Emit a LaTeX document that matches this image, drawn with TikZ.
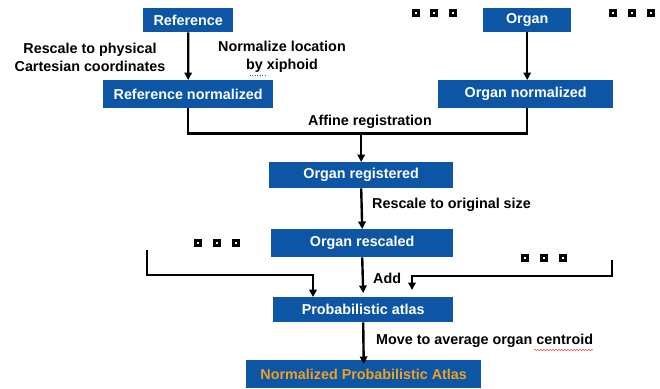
\documentclass[tikz,border=0pt]{standalone}
\usepackage{fontspec}
\setmainfont{Liberation Sans}
\usetikzlibrary{arrows.meta,decorations.pathmorphing}
\definecolor{boxblue}{RGB}{12,86,165}
\definecolor{atlasorange}{RGB}{240,160,32}
\tikzset{
  x=1bp,y=-1bp,
  box/.style={fill=boxblue,text=white,font=\fontsize{14.4}{17}\selectfont\bfseries,inner sep=0pt,anchor=north west},
  lbl/.style={font=\fontsize{14.4}{18}\selectfont\bfseries,inner sep=0pt,align=center},
  conn/.style={line width=2.4bp,-{Triangle[width=7.5bp,length=7.5bp]}},
  plain/.style={line width=2.4bp},
  dotsq/.style={rectangle,fill=black,minimum size=7.5bp,inner sep=0pt,
    path picture={\fill[white] ([shift={(-1.4bp,-1.4bp)}]path picture bounding box.center) rectangle ([shift={(1.4bp,1.4bp)}]path picture bounding box.center);}}
}
\begin{document}
\begin{tikzpicture}
\useasboundingbox (0,0) rectangle (660,388);
% boxes
\node[box,minimum width=90bp,minimum height=24bp] (ref) at (143,8) {Reference};
\node[box,minimum width=88bp,minimum height=24bp] (org) at (483,8) {Organ};
\node[box,minimum width=170bp,minimum height=28bp] (refn) at (103,80) {Reference normalized};
\node[box,minimum width=175bp,minimum height=28bp] (orgn) at (438,80) {Organ normalized};
\node[box,minimum width=184bp,minimum height=26bp] (reg) at (269,162) {Organ registered};
\node[box,minimum width=182bp,minimum height=28bp] (resc) at (271,229) {Organ rescaled};
\node[box,minimum width=180bp,minimum height=25bp] (atlas) at (273,297) {Probabilistic atlas};
\node[box,minimum width=235bp,minimum height=28bp,text=atlasorange] (natlas) at (246,360) {Normalized Probabilistic Atlas};
% labels
\node[lbl] (l1) at (90,57) {Rescale to physical\\Cartesian coordinates};
\node[lbl] (l2) at (282,57) {Normalize location\\by xiphoid};
\node[lbl] (l3) at (370,122) {Affine registration};
\node[lbl,anchor=west] (l4) at (372,205) {Rescale to original size};
\node[lbl,anchor=west] (l5) at (373,278) {Add};
\node[lbl,anchor=west] (l6) at (376,341) {Move to average organ centroid};
% spellcheck squiggles
\draw[red!80!white,line width=0.5bp,decorate,decoration={snake,amplitude=0.6bp,segment length=3bp}] (534,350) -- (593,350);
\draw[green!50!black,line width=0.5bp,dotted] (250,75) -- (267,75);
% dots
\foreach \x/\n in {416/a,434/b,453/c,613/d,632/e,651/f} \node[dotsq] (t\n) at (\x,13) {};
\foreach \x/\n in {198/a,217/b,236/c} \node[dotsq] (m\n) at (\x,243) {};
\foreach \x/\n in {525/a,544/b,563/c} \node[dotsq] (r\n) at (\x,258) {};
% connectors
\draw[conn] (ref.south) -- (refn.north);
\draw[conn] (org.south) -- (orgn.north -| org.south);
\draw[plain] (refn.south) -- ++(0,25) coordinate (affl) -| (orgn.south -| org.south);
\coordinate (affm) at (reg.north |- affl);
\draw[conn] (affm) -- (reg.north);
\draw[conn] (reg.south) -- (resc.north);
\draw[conn] (resc.south) -- ([yshift=4bp]atlas.north);
\coordinate (lb) at (147,250);
\coordinate (rb) at (612,260);
\coordinate (lt) at (313,297);
\coordinate (rt) at (412,290);
\draw[conn] (lb) -- (147,275) -| (lt);
\draw[conn] (rb) -- (612,276) -| (rt);
\draw[conn] (atlas.south) -- ([yshift=-4bp]natlas.north);
\end{tikzpicture}
\end{document}
